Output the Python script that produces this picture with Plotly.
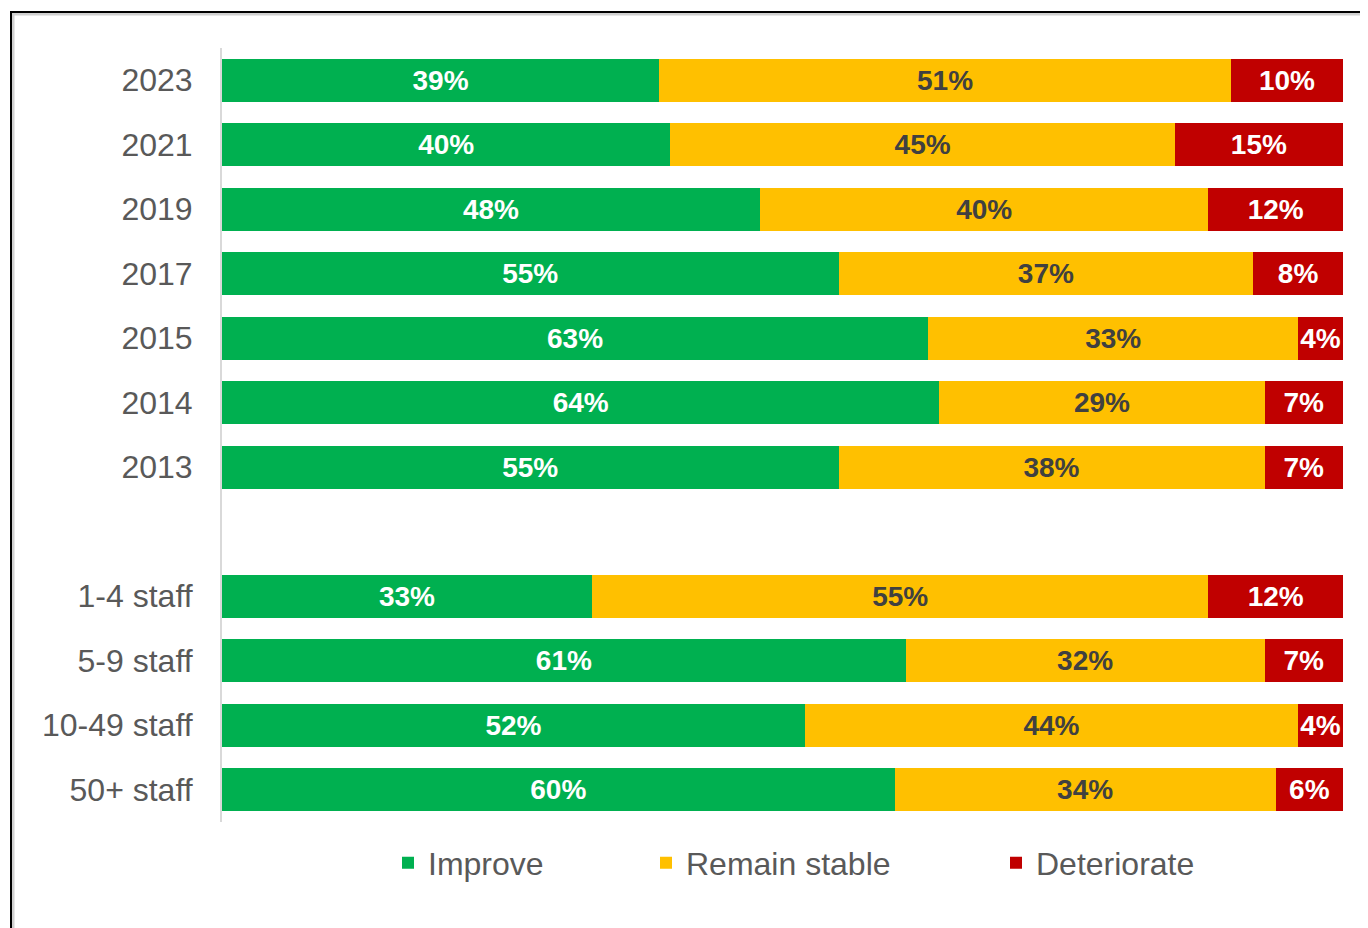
import plotly.graph_objects as go

categories = ["2023", "2021", "2019", "2017", "2015", "2014", "2013",
              "1-4 staff", "5-9 staff", "10-49 staff", "50+ staff"]
improve = [39, 40, 48, 55, 63, 64, 55, 33, 61, 52, 60]
remain = [51, 45, 40, 37, 33, 29, 38, 55, 32, 44, 34]
deteriorate = [10, 15, 12, 8, 4, 7, 7, 12, 7, 4, 6]
series_names = ["Improve", "Remain stable", "Deteriorate"]
colors = ["#00B050", "#FFC000", "#C00000"]
text_colors = ["#FFFFFF", "#404040", "#FFFFFF"]

# Slot positions: the year group, one empty slot, then the staff group
gap_after = 7
ypos = [i if i < gap_after else i + 1 for i in range(len(categories))]

FONT = "Liberation Sans, Arial, sans-serif"
fig = go.Figure()
legends = ["legend", "legend2", "legend3"]
for name, vals, col, tcol, lg in zip(series_names, [improve, remain, deteriorate],
                                     colors, text_colors, legends):
    fig.add_trace(go.Bar(
        y=ypos, x=vals, name=name, orientation="h",
        marker=dict(color=col, line=dict(width=0)),
        width=0.67,
        text=[f"{v}%" for v in vals],
        textposition="inside", insidetextanchor="middle",
        textangle=0, constraintext="none",
        textfont=dict(family=FONT, size=28, color=tcol, weight="bold"),
        legend=lg,
    ))

# page has an 8px body margin; figure coordinates are page coordinates - 8
OFF = 8
W, H = 1368 - OFF, 928 - OFF
L, R, T, B = 222 - OFF, 25, 48 - OFF, 106
pw, ph = W - L - R, H - T - B

def px_x(x):
    return (x - OFF - L) / pw

def px_y(y):
    return (H - B - (y - OFF)) / ph

legend_common = dict(orientation="h", font=dict(family=FONT, size=32, color="#595959"),
                     yanchor="middle", xanchor="left", bgcolor="rgba(0,0,0,0)",
                     itemwidth=30, tracegroupgap=0)
legend_x = [388, 646, 996]
layout_legends = {}
for lg, lx in zip(legends, legend_x):
    layout_legends[lg] = dict(legend_common, x=px_x(lx), y=px_y(863))

fig.update_layout(
    width=W, height=H,
    margin=dict(l=L, r=R, t=T, b=B),
    barmode="stack",
    plot_bgcolor="white", paper_bgcolor="white",
    showlegend=True,
    font=dict(family=FONT, color="#595959"),
    xaxis=dict(range=[0, 100], visible=False, fixedrange=True),
    yaxis=dict(
        range=[11.5, -0.5], tickmode="array", tickvals=ypos, ticktext=categories,
        tickfont=dict(family=FONT, size=32, color="#595959"),
        showgrid=False, zeroline=False, showline=True, linecolor="#D9D9D9",
        linewidth=2, ticks="", ticklabelstandoff=21,
    ),
    **layout_legends,
)

# chart frame (black border with light shadow)
fig.add_shape(type="rect", xref="paper", yref="paper",
              x0=px_x(13), x1=px_x(1400), y0=px_y(960), y1=px_y(14),
              line=dict(color="#D0D0D0", width=3), layer="below")
fig.add_shape(type="rect", xref="paper", yref="paper",
              x0=px_x(11), x1=px_x(1400), y0=px_y(960), y1=px_y(12),
              line=dict(color="#000000", width=2), layer="below")

fig.write_html("out.html")
